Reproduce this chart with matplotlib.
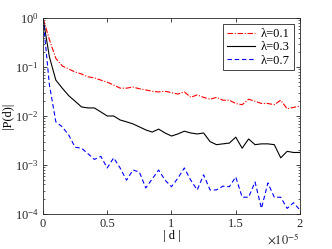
import matplotlib
matplotlib.use("Agg")
import matplotlib.pyplot as plt
from matplotlib.ticker import FuncFormatter, LogLocator, NullFormatter

# |d| in units of 1e-5
D_E5 = [0.00, 0.05, 0.10, 0.15, 0.20, 0.25, 0.30, 0.35, 0.40, 0.45,
        0.50, 0.55, 0.60, 0.65, 0.70, 0.75, 0.80, 0.85, 0.90, 0.95,
        1.00, 1.05, 1.10, 1.15, 1.20, 1.25, 1.30, 1.35, 1.40, 1.45,
        1.50, 1.55, 1.60, 1.65, 1.70, 1.75, 1.80, 1.85, 1.90, 1.95, 2.00]

P_L01 = [1.0, 0.36, 0.15, 0.105, 0.091, 0.079, 0.072, 0.063, 0.060, 0.054,
         0.049, 0.043, 0.037, 0.037, 0.039, 0.036, 0.034, 0.032, 0.031, 0.032,
         0.030, 0.028, 0.031, 0.024, 0.027, 0.024, 0.022, 0.024, 0.021, 0.021,
         0.018, 0.017, 0.022, 0.020, 0.018, 0.018, 0.017, 0.021, 0.014, 0.015, 0.016]

P_L03 = [1.0, 0.16, 0.054, 0.037, 0.026, 0.020, 0.0153, 0.0146, 0.0146, 0.0121,
         0.0100, 0.0100, 0.0083, 0.0076, 0.0069, 0.0060, 0.0052, 0.0047, 0.0054, 0.0045,
         0.0039, 0.0043, 0.0049, 0.0045, 0.0043, 0.0045, 0.0030, 0.0026, 0.0027, 0.0028,
         0.0037, 0.0022, 0.0034, 0.0026, 0.0027, 0.0027, 0.0026, 0.0014, 0.0019, 0.0018, 0.0018]

P_L07 = [1.0, 0.043, 0.0076, 0.0060, 0.0041, 0.0023, 0.0022, 0.0017, 0.0013, 0.0015,
         0.00087, 0.0014, 0.00087, 0.00049, 0.00079, 0.00072, 0.00034, 0.00052, 0.00079, 0.00049,
         0.00036, 0.00054, 0.00087, 0.00049, 0.00031, 0.00063, 0.00031, 0.00031, 0.00037, 0.00036,
         0.00057, 0.00022, 0.00022, 0.00045, 0.00013, 0.00043, 0.00022, 0.00022, 0.00013, 0.00017, 0.00012]

LABELS = ["λ=0.1", "λ=0.3", "λ=0.7"]
XTICKS_E5 = [0, 0.5, 1, 1.5, 2]

plt.rcParams["font.family"] = ["Liberation Serif", "DejaVu Serif"]
plt.rcParams["mathtext.fontset"] = "stix"
plt.rcParams["font.size"] = 9

fig = plt.figure(figsize=(3.32, 2.49), dpi=100)
ax = fig.add_axes([0.1295, 0.1406, 0.7741, 0.7871])

d = [v * 1e-5 for v in D_E5]
ax.plot(d, P_L01, color="#ff0000", lw=0.8, dashes=(5, 1.5, 1, 1.5), label=LABELS[0])
ax.plot(d, P_L03, color="black", lw=0.8, label=LABELS[1])
ax.plot(d, P_L07, color="#0000ff", lw=0.8, dashes=(4, 2.5), label=LABELS[2])

ax.set_yscale("log")
ax.set_ylim(1e-4, 1)
ax.set_xlim(0, 2e-5)
ax.set_xticks([v * 1e-5 for v in XTICKS_E5])
ax.xaxis.set_major_formatter(FuncFormatter(lambda v, p: f"{v / 1e-5:g}"))
ax.yaxis.set_minor_locator(LogLocator(base=10, subs=range(2, 10)))
ax.yaxis.set_minor_formatter(NullFormatter())
ax.text(1.0, -0.095, r"$\times10^{-5}$", transform=ax.transAxes,
        ha="right", va="top", color="#262626")

ax.tick_params(which="both", direction="in", top=True, right=True,
               color="#262626", labelcolor="#262626")
ax.tick_params(which="major", length=3, width=0.6, pad=3)
ax.tick_params(which="minor", length=1.6, width=0.5)
for s in ax.spines.values():
    s.set_linewidth(0.6)
    s.set_color("#262626")

ax.set_xlabel("| d |", labelpad=0)
ax.set_ylabel("|P(d)|", labelpad=1)

leg = ax.legend(loc="upper right", fontsize=9, frameon=True, fancybox=False,
                edgecolor="#262626", framealpha=1, handlelength=2.2,
                borderpad=0.3, labelspacing=0.1, handletextpad=0.5,
                borderaxespad=0.5)
leg.get_frame().set_linewidth(0.6)

fig.savefig("out.png", dpi=100)
